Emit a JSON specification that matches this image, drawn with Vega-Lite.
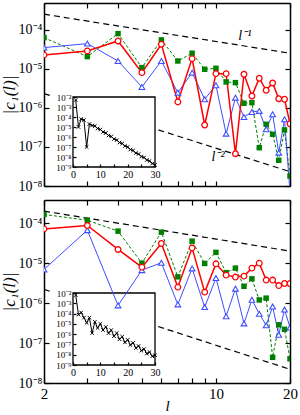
{
"$schema": "https://vega.github.io/schema/vega-lite/v6.json",
"padding": {"left": 0, "top": 2, "right": 10, "bottom": 0},
"spacing": 6,
"config": {
  "font": "Liberation Serif",
  "view": {"stroke": null},
  "axis": {"grid": false, "labelOverlap": false, "labelFlush": false, "tickColor": "black", "domainColor": "black", "labelColor": "black", "titleColor": "black", "tickWidth": 1.2, "domainWidth": 1.5}
},
"datasets": {
  "topG": [{"l":2,"g":"a","v":2.53e-4},{"l":20,"g":"a","v":2.53e-5},{"l":2,"g":"b","v":2.33e-6},{"l":20,"g":"b","v":2.33e-8}],
  "botG": [{"l":2,"g":"a","v":2.0e-4},{"l":20,"g":"a","v":2.0e-5},{"l":2,"g":"b","v":2.2e-6},{"l":20,"g":"b","v":2.2e-8}],
  "topT": [{"l":13.1,"v":7.0e-5,"t":"l⁻¹"},{"l":10.2,"v":5.5e-8,"t":"l⁻²"}],
  "topB": [{"k":"bg","l":-7.5,"l2":30.6,"v":6.3e-11,"v2":0.0316},{"k":"box","l":0,"l2":30,"v":1e-9,"v2":1e-2}],
  "botB": [{"k":"bg","l":-7.5,"l2":30.6,"v":7.9e-11,"v2":0.0316},{"k":"box","l":0,"l2":30,"v":1e-9,"v2":1e-2}],
  "topI": [{"l":1,"v":5.0e-3},{"l":2,"v":1.0e-5},{"l":3,"v":6.3e-5},{"l":4,"v":5.0e-5},{"l":5,"v":1.0e-7},{"l":6,"v":2.0e-5},{"l":7,"v":1.41e-5},{"l":8,"v":1.26e-5},{"l":9,"v":7.1e-6},{"l":10,"v":5.6e-6},{"l":11,"v":3.2e-6},{"l":12,"v":2.5e-6},{"l":13,"v":1.41e-6},{"l":14,"v":1.12e-6},{"l":15,"v":6.3e-7},{"l":16,"v":5.0e-7},{"l":17,"v":2.8e-7},{"l":18,"v":2.24e-7},{"l":19,"v":1.26e-7},{"l":20,"v":1.0e-7},{"l":21,"v":5.6e-8},{"l":22,"v":4.5e-8},{"l":23,"v":2.5e-8},{"l":24,"v":2.0e-8},{"l":25,"v":1.12e-8},{"l":26,"v":8.9e-9},{"l":27,"v":5.0e-9},{"l":28,"v":4.0e-9},{"l":29,"v":2.24e-9},{"l":30,"v":1.6e-9}],
  "botI": [{"l":1,"v":6.3e-3},{"l":2,"v":7.9e-5},{"l":3,"v":1.26e-4},{"l":4,"v":4.0e-5},{"l":5,"v":1.26e-5},{"l":6,"v":4.0e-5},{"l":7,"v":1.26e-6},{"l":8,"v":1.58e-5},{"l":9,"v":4.0e-6},{"l":10,"v":1.0e-5},{"l":11,"v":2.5e-6},{"l":12,"v":5.0e-6},{"l":13,"v":1.26e-6},{"l":14,"v":2.5e-6},{"l":15,"v":6.3e-7},{"l":16,"v":1.26e-6},{"l":17,"v":3.2e-7},{"l":18,"v":5.6e-7},{"l":19,"v":1.58e-7},{"l":20,"v":2.8e-7},{"l":21,"v":8.9e-8},{"l":22,"v":1.41e-7},{"l":23,"v":4.5e-8},{"l":24,"v":7.1e-8},{"l":25,"v":2.5e-8},{"l":26,"v":3.5e-8},{"l":27,"v":1.26e-8},{"l":28,"v":1.78e-8},{"l":29,"v":7.1e-9},{"l":30,"v":8.9e-9}],
  "topS": [
    {"l":2,"s":"r","v":2.29e-5},{"l":3,"s":"r","v":2.90e-5},{"l":4,"s":"r","v":5.22e-5},{"l":5,"s":"r","v":8.04e-6},{"l":6,"s":"r","v":4.30e-5},{"l":7,"s":"r","v":1.43e-6},{"l":8,"s":"r","v":1.84e-5},{"l":9,"s":"r","v":3.66e-7},{"l":10,"s":"r","v":7.57e-6},{"l":11,"s":"r","v":7.57e-6},{"l":12,"s":"r","v":6.73e-8},{"l":13,"s":"r","v":7.31e-6},{"l":14,"s":"r","v":2.03e-6},{"l":15,"s":"r","v":5.78e-6},{"l":16,"s":"r","v":2.84e-6},{"l":17,"s":"r","v":4.38e-6},{"l":18,"s":"r","v":1.73e-6},{"l":19,"s":"r","v":1.67e-6},{"l":20,"s":"r","v":3.95e-7},
    {"l":2,"s":"b","v":3.52e-5},{"l":3,"s":"b","v":4.46e-5},{"l":4,"s":"b","v":1.60e-5},{"l":5,"s":"b","v":3.45e-6},{"l":6,"s":"b","v":1.60e-5},{"l":7,"s":"b","v":2.47e-6},{"l":8,"s":"b","v":8.04e-6},{"l":9,"s":"b","v":1.67e-6},{"l":10,"s":"b","v":3.82e-6},{"l":11,"s":"b","v":2.19e-7},{"l":12,"s":"b","v":1.84e-6},{"l":13,"s":"b","v":5.87e-7},{"l":14,"s":"b","v":7.89e-7},{"l":15,"s":"b","v":8.38e-7},{"l":16,"s":"b","v":2.84e-7},{"l":17,"s":"b","v":6.89e-7},{"l":18,"s":"b","v":7.14e-8},{"l":19,"s":"b","v":5.13e-7},{"l":20,"s":"b","v":7.0e-9},
    {"l":2,"s":"g","v":6.35e-5},{"l":3,"s":"g","v":2.07e-5},{"l":4,"s":"g","v":8.04e-5},{"l":5,"s":"g","v":1.08e-5},{"l":6,"s":"g","v":5.55e-5},{"l":7,"s":"g","v":1.60e-5},{"l":8,"s":"g","v":2.53e-5},{"l":9,"s":"g","v":9.82e-6},{"l":10,"s":"g","v":1.04e-5},{"l":11,"s":"g","v":4.65e-6},{"l":12,"s":"g","v":4.46e-6},{"l":13,"s":"g","v":1.32e-6},{"l":14,"s":"g","v":1.37e-6},{"l":15,"s":"g","v":9.59e-8},{"l":16,"s":"g","v":3.82e-7},{"l":17,"s":"g","v":2.12e-7},{"l":18,"s":"g","v":4.56e-8},{"l":19,"s":"g","v":2.73e-7},{"l":20,"s":"g","v":1.80e-8}
  ],
  "botS": [
    {"l":2,"s":"r","v":7.19e-5},{"l":3,"s":"r","v":8.75e-5},{"l":4,"s":"r","v":2.20e-5},{"l":5,"s":"r","v":7.94e-6},{"l":6,"s":"r","v":3.10e-5},{"l":7,"s":"r","v":2.51e-6},{"l":8,"s":"r","v":2.41e-5},{"l":9,"s":"r","v":1.88e-6},{"l":10,"s":"r","v":9.59e-6},{"l":11,"s":"r","v":5.01e-6},{"l":12,"s":"r","v":4.47e-6},{"l":13,"s":"r","v":4.73e-6},{"l":14,"s":"r","v":7.50e-6},{"l":15,"s":"r","v":1.0e-5},{"l":16,"s":"r","v":3.76e-6},{"l":17,"s":"r","v":3.76e-6},{"l":18,"s":"r","v":2.74e-6},{"l":19,"s":"r","v":3.10e-6},{"l":20,"s":"r","v":3.10e-6},
    {"l":2,"s":"b","v":6.95e-6},{"l":3,"s":"b","v":6.68e-5},{"l":4,"s":"b","v":8.75e-7},{"l":5,"s":"b","v":6.68e-6},{"l":6,"s":"b","v":1.02e-5},{"l":7,"s":"b","v":9.27e-7},{"l":8,"s":"b","v":7.36e-6},{"l":9,"s":"b","v":7.94e-7},{"l":10,"s":"b","v":4.22e-6},{"l":11,"s":"b","v":4.68e-7},{"l":12,"s":"b","v":2.30e-6},{"l":13,"s":"b","v":3.10e-7},{"l":14,"s":"b","v":1.21e-6},{"l":15,"s":"b","v":5.40e-7},{"l":16,"s":"b","v":2.77e-7},{"l":17,"s":"b","v":8.17e-7},{"l":18,"s":"b","v":1.61e-7},{"l":19,"s":"b","v":6.87e-7},{"l":20,"s":"b","v":2.44e-7},
    {"l":2,"s":"g","v":1.65e-4},{"l":3,"s":"g","v":1.19e-4},{"l":4,"s":"g","v":6.31e-5},{"l":5,"s":"g","v":1.0e-5},{"l":6,"s":"g","v":5.96e-5},{"l":7,"s":"g","v":4.54e-6},{"l":8,"s":"g","v":3.55e-5},{"l":9,"s":"g","v":9.82e-6},{"l":10,"s":"g","v":1.86e-5},{"l":11,"s":"g","v":5.78e-6},{"l":12,"s":"g","v":7.50e-6},{"l":13,"s":"g","v":2.63e-6},{"l":14,"s":"g","v":4.05e-6},{"l":15,"s":"g","v":1.20e-6},{"l":16,"s":"g","v":1.33e-6},{"l":17,"s":"g","v":4.39e-8},{"l":18,"s":"g","v":2.86e-7},{"l":19,"s":"g","v":2.21e-7},{"l":20,"s":"g","v":4.03e-8}
  ]
},
"vconcat": [
 {
  "width": 246, "height": 183,
  "resolve": {"scale": {"x": "independent", "y": "independent"}, "axis": {"x": "independent", "y": "independent"}},
  "layer": [
   {
    "data": {"name": "topG"},
    "mark": {"type": "line", "color": "black", "strokeWidth": 1.2, "strokeDash": [6, 4]},
    "encoding": {
     "x": {"field": "l", "type": "quantitative", "scale": {"type": "log", "domain": [2, 20], "nice": false},
       "axis": {"orient": "bottom", "values": [2,3,4,5,6,7,8,9,10,20], "labels": false, "title": null, "tickSize": -5}},
     "y": {"field": "v", "type": "quantitative", "scale": {"type": "log", "domain": [1e-8, 4.9e-4], "nice": false},
       "axis": {"orient": "left", "values": [1e-8,1e-7,1e-6,1e-5,1e-4], "labelExpr": "'10⁻' + ['⁰','¹','²','³','⁴','⁵','⁶','⁷','⁸','⁹'][-round(log(datum.value)/LN10)]", "labelFontSize": 14, "labelPadding": 7, "tickSize": -5, "title": "|c₁(l)|", "titleFontSize": 17, "titleFontStyle": "italic", "titleFontWeight": "normal", "titlePadding": 0}},
     "detail": {"field": "g"}
    }
   },
   {
    "encoding": {
     "x": {"field": "l", "type": "quantitative", "scale": {"domain": [-10.61, 79.39], "nice": false, "zero": false},
       "axis": {"orient": "bottom", "offset": -19, "values": [0,5,10,15,20,25,30], "labelExpr": "datum.value % 10 == 0 ? datum.value + '' : ''", "domain": false, "tickSize": -3, "labelPadding": 5, "labelFontSize": 10, "title": null, "zindex": 1}},
     "y": {"field": "v", "type": "quantitative", "scale": {"type": "log", "domain": [1.26e-11, 2.51e7], "nice": false},
       "axis": {"orient": "left", "offset": -29, "values": [1e-9,1e-8,1e-7,1e-6,1e-5,1e-4,1e-3,1e-2], "labelExpr": "'10⁻' + ['⁰','¹','²','³','⁴','⁵','⁶','⁷','⁸','⁹'][-round(log(datum.value)/LN10)]", "domain": false, "tickSize": -3, "labelPadding": 5, "labelFontSize": 9, "title": null, "zindex": 1}}
    },
    "layer": [
     {"data": {"name": "topB"}, "transform": [{"filter": "datum.k == 'bg'"}], "mark": {"type": "rect", "fill": "white"}, "encoding": {"x2": {"field": "l2"}, "y2": {"field": "v2"}}},
     {"data": {"name": "topB"}, "transform": [{"filter": "datum.k == 'box'"}], "mark": {"type": "rect", "filled": false, "stroke": "black", "strokeWidth": 1.3}, "encoding": {"x2": {"field": "l2"}, "y2": {"field": "v2"}}},
     {"data": {"name": "topI"}, "mark": {"type": "line", "color": "black", "strokeWidth": 1}},
     {"data": {"name": "topI"}, "mark": {"type": "point", "shape": "M-1,-1L1,1M1,-1L-1,1", "filled": false, "stroke": "black", "strokeWidth": 1, "size": 12, "opacity": 1}}
    ]
   },
   {
    "data": {"name": "topB"},
    "transform": [{"filter": "datum.k == 'box'"}],
    "mark": {"type": "point", "opacity": 0},
    "encoding": {
     "x": {"field": "l", "type": "quantitative", "scale": {"domain": [-10.61, 79.39], "nice": false, "zero": false},
       "axis": {"orient": "top", "offset": -94, "values": [0,5,10,15,20,25,30], "labels": false, "domain": false, "tickSize": -3, "title": null}},
     "y": {"field": "v", "type": "quantitative", "scale": {"type": "log", "domain": [1.26e-11, 2.51e7], "nice": false},
       "axis": {"orient": "right", "offset": -135, "values": [1e-9,1e-8,1e-7,1e-6,1e-5,1e-4,1e-3,1e-2], "labels": false, "domain": false, "tickSize": -3, "title": null}}
    }
   },
   {
    "data": {"name": "topS"},
    "encoding": {
     "x": {"field": "l", "type": "quantitative", "scale": {"type": "log", "domain": [2, 20], "nice": false}, "axis": null},
     "y": {"field": "v", "type": "quantitative", "scale": {"type": "log", "domain": [1e-8, 4.9e-4], "nice": false}, "axis": null}
    },
    "layer": [
     {"transform": [{"filter": "datum.s == 'g'"}], "mark": {"type": "line", "color": "#008000", "strokeWidth": 1, "strokeDash": [3, 2], "clip": true}},
     {"transform": [{"filter": "datum.s == 'b'"}], "mark": {"type": "line", "color": "#3d4dff", "strokeWidth": 1, "clip": true}},
     {"transform": [{"filter": "datum.s == 'r'"}], "mark": {"type": "line", "color": "#ff0000", "strokeWidth": 1.5, "clip": true}},
     {"transform": [{"filter": "datum.s == 'g'"}], "mark": {"type": "point", "shape": "square", "filled": true, "color": "#008000", "size": 30, "opacity": 1, "clip": true}},
     {"transform": [{"filter": "datum.s == 'b'"}], "mark": {"type": "point", "shape": "triangle-up", "fill": "white", "stroke": "#3d4dff", "strokeWidth": 1.1, "size": 32, "opacity": 1, "clip": true}},
     {"transform": [{"filter": "datum.s == 'r'"}], "mark": {"type": "point", "shape": "circle", "fill": "white", "stroke": "#ff0000", "strokeWidth": 1.3, "size": 32, "opacity": 1, "clip": true}}
    ]
   },
   {
    "data": {"name": "topT"},
    "mark": {"type": "text", "fontSize": 14, "fontStyle": "italic", "color": "black"},
    "encoding": {
     "x": {"field": "l", "type": "quantitative", "scale": {"type": "log", "domain": [2, 20], "nice": false}, "axis": {"orient": "top", "values": [2,3,4,5,6,7,8,9,10,20], "labels": false, "title": null, "tickSize": -5}},
     "y": {"field": "v", "type": "quantitative", "scale": {"type": "log", "domain": [1e-8, 4.9e-4], "nice": false}, "axis": {"orient": "right", "values": [1e-8,1e-7,1e-6,1e-5,1e-4], "labels": false, "title": null, "tickSize": -5}},
     "text": {"field": "t"}
    }
   }
  ]
 },
 {
  "width": 246, "height": 183,
  "resolve": {"scale": {"x": "independent", "y": "independent"}, "axis": {"x": "independent", "y": "independent"}},
  "layer": [
   {
    "data": {"name": "botG"},
    "mark": {"type": "line", "color": "black", "strokeWidth": 1.2, "strokeDash": [6, 4]},
    "encoding": {
     "x": {"field": "l", "type": "quantitative", "scale": {"type": "log", "domain": [2, 20], "nice": false},
       "axis": {"orient": "bottom", "values": [2,3,4,5,6,7,8,9,10,20], "labelExpr": "datum.value == 2 || datum.value == 10 || datum.value == 20 ? datum.value + '' : ''", "labelFontSize": 15, "labelPadding": 8, "tickSize": -5, "title": "l", "titleFontSize": 15, "titleFontStyle": "italic", "titleFontWeight": "normal", "titlePadding": -3}},
     "y": {"field": "v", "type": "quantitative", "scale": {"type": "log", "domain": [1e-8, 3.8e-4], "nice": false},
       "axis": {"orient": "left", "values": [1e-8,1e-7,1e-6,1e-5,1e-4], "labelExpr": "'10⁻' + ['⁰','¹','²','³','⁴','⁵','⁶','⁷','⁸','⁹'][-round(log(datum.value)/LN10)]", "labelFontSize": 14, "labelPadding": 7, "tickSize": -5, "title": "|c₁(l)|", "titleFontSize": 17, "titleFontStyle": "italic", "titleFontWeight": "normal", "titlePadding": 0}},
     "detail": {"field": "g"}
    }
   },
   {
    "encoding": {
     "x": {"field": "l", "type": "quantitative", "scale": {"domain": [-10.61, 79.39], "nice": false, "zero": false},
       "axis": {"orient": "bottom", "offset": -18, "values": [0,5,10,15,20,25,30], "labelExpr": "datum.value % 10 == 0 ? datum.value + '' : ''", "domain": false, "tickSize": -3, "labelPadding": 5, "labelFontSize": 10, "title": null, "zindex": 1}},
     "y": {"field": "v", "type": "quantitative", "scale": {"type": "log", "domain": [1.78e-11, 1.1e7], "nice": false},
       "axis": {"orient": "left", "offset": -29, "values": [1e-9,1e-8,1e-7,1e-6,1e-5,1e-4,1e-3,1e-2], "labelExpr": "'10⁻' + ['⁰','¹','²','³','⁴','⁵','⁶','⁷','⁸','⁹'][-round(log(datum.value)/LN10)]", "domain": false, "tickSize": -3, "labelPadding": 5, "labelFontSize": 9, "title": null, "zindex": 1}}
    },
    "layer": [
     {"data": {"name": "botB"}, "transform": [{"filter": "datum.k == 'bg'"}], "mark": {"type": "rect", "fill": "white"}, "encoding": {"x2": {"field": "l2"}, "y2": {"field": "v2"}}},
     {"data": {"name": "botB"}, "transform": [{"filter": "datum.k == 'box'"}], "mark": {"type": "rect", "filled": false, "stroke": "black", "strokeWidth": 1.3}, "encoding": {"x2": {"field": "l2"}, "y2": {"field": "v2"}}},
     {"data": {"name": "botI"}, "mark": {"type": "line", "color": "black", "strokeWidth": 1}},
     {"data": {"name": "botI"}, "mark": {"type": "point", "shape": "M-1,-1L1,1M1,-1L-1,1", "filled": false, "stroke": "black", "strokeWidth": 1, "size": 12, "opacity": 1}}
    ]
   },
   {
    "data": {"name": "botB"},
    "transform": [{"filter": "datum.k == 'box'"}],
    "mark": {"type": "point", "opacity": 0},
    "encoding": {
     "x": {"field": "l", "type": "quantitative", "scale": {"domain": [-10.61, 79.39], "nice": false, "zero": false},
       "axis": {"orient": "top", "offset": -93, "values": [0,5,10,15,20,25,30], "labels": false, "domain": false, "tickSize": -3, "title": null}},
     "y": {"field": "v", "type": "quantitative", "scale": {"type": "log", "domain": [1.78e-11, 1.1e7], "nice": false},
       "axis": {"orient": "right", "offset": -135, "values": [1e-9,1e-8,1e-7,1e-6,1e-5,1e-4,1e-3,1e-2], "labels": false, "domain": false, "tickSize": -3, "title": null}}
    }
   },
   {
    "data": {"name": "botS"},
    "encoding": {
     "x": {"field": "l", "type": "quantitative", "scale": {"type": "log", "domain": [2, 20], "nice": false}, "axis": {"orient": "top", "values": [2,3,4,5,6,7,8,9,10,20], "labels": false, "title": null, "tickSize": -5}},
     "y": {"field": "v", "type": "quantitative", "scale": {"type": "log", "domain": [1e-8, 3.8e-4], "nice": false}, "axis": {"orient": "right", "values": [1e-8,1e-7,1e-6,1e-5,1e-4], "labels": false, "title": null, "tickSize": -5}}
    },
    "layer": [
     {"transform": [{"filter": "datum.s == 'g'"}], "mark": {"type": "line", "color": "#008000", "strokeWidth": 1, "strokeDash": [3, 2], "clip": true}},
     {"transform": [{"filter": "datum.s == 'b'"}], "mark": {"type": "line", "color": "#3d4dff", "strokeWidth": 1, "clip": true}},
     {"transform": [{"filter": "datum.s == 'r'"}], "mark": {"type": "line", "color": "#ff0000", "strokeWidth": 1.5, "clip": true}},
     {"transform": [{"filter": "datum.s == 'g'"}], "mark": {"type": "point", "shape": "square", "filled": true, "color": "#008000", "size": 30, "opacity": 1, "clip": true}},
     {"transform": [{"filter": "datum.s == 'b'"}], "mark": {"type": "point", "shape": "triangle-up", "fill": "white", "stroke": "#3d4dff", "strokeWidth": 1.1, "size": 32, "opacity": 1, "clip": true}},
     {"transform": [{"filter": "datum.s == 'r'"}], "mark": {"type": "point", "shape": "circle", "fill": "white", "stroke": "#ff0000", "strokeWidth": 1.3, "size": 32, "opacity": 1, "clip": true}}
    ]
   }
  ]
 }
]
}
